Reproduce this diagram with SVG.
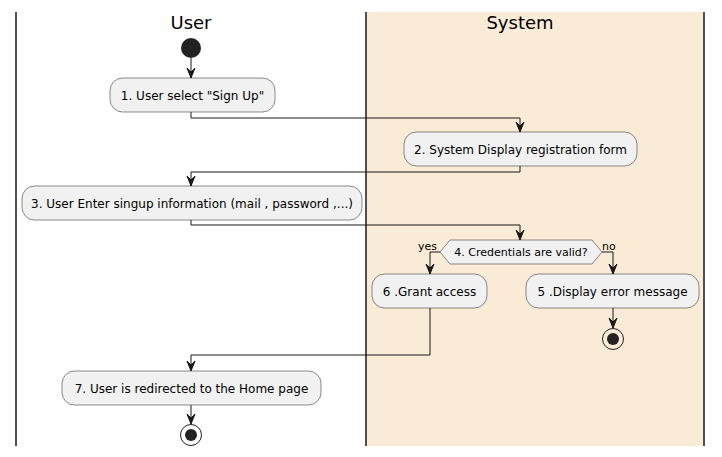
<svg xmlns="http://www.w3.org/2000/svg" width="722" height="457" viewBox="0 0 722 457">
<defs>
<style>
.lane{stroke:#181818;stroke-width:1.5;}
.title{font-family:"DejaVu Sans",sans-serif;font-size:18px;fill:#000;text-anchor:middle;}
.box{fill:#F1F1F1;stroke:#181818;stroke-width:0.5;}
.t{font-family:"DejaVu Sans",sans-serif;font-size:12px;fill:#000;text-anchor:middle;}
.lbl{font-family:"DejaVu Sans",sans-serif;font-size:11px;fill:#000;}
.edge{fill:none;stroke:#181818;stroke-width:1;}
.head{fill:#181818;stroke:#181818;stroke-width:1;}
</style>
</defs>
<rect x="366" y="12" width="338" height="434" fill="#FAEBD7"/>
<g id="lanes">
<line class="lane" x1="16" y1="12" x2="16" y2="446"/>
<line class="lane" x1="366" y1="12" x2="366" y2="446"/>
<line class="lane" x1="704" y1="12" x2="704" y2="446"/>
<text class="title" x="191" y="29">User</text>
<text class="title" x="520" y="29">System</text>
</g>
<g id="connectors">
<path class="edge" d="M191,58 V78"/>
<polygon class="head" points="187,68 191,78 195,68 191,72"/>
<path class="edge" d="M191,112 V118 H520 V132"/>
<polygon class="head" points="516,122 520,132 524,122 520,126"/>
<path class="edge" d="M520,166 V172 H191 V186"/>
<polygon class="head" points="187,176 191,186 195,176 191,180"/>
<path class="edge" d="M191,220 V225 H520 V240"/>
<polygon class="head" points="516,230 520,240 524,230 520,234"/>
<path class="edge" d="M440,252 H430 V274"/>
<polygon class="head" points="426,264 430,274 434,264 430,268"/>
<path class="edge" d="M602,252 H613 V274"/>
<polygon class="head" points="609,264 613,274 617,264 613,268"/>
<path class="edge" d="M613,308 V328"/>
<polygon class="head" points="609,318 613,328 617,318 613,322"/>
<path class="edge" d="M430,308 V355 H191 V371"/>
<polygon class="head" points="187,361 191,371 195,361 191,365"/>
<path class="edge" d="M191,405 V424"/>
<polygon class="head" points="187,414 191,424 195,414 191,418"/>
<text class="lbl" x="418" y="250">yes</text>
<text class="lbl" x="602" y="250">no</text>
</g>
<g id="start"><circle cx="191" cy="48" r="10" fill="#222222"/></g>
<g id="n1"><rect class="box" x="110" y="78" width="165" height="34" rx="12.5"/><text class="t" x="192.5" y="99.5">1. User select "Sign Up"</text></g>
<g id="n2"><rect class="box" x="404" y="132" width="233" height="34" rx="12.5"/><text class="t" x="520.5" y="153.5">2. System Display registration form</text></g>
<g id="n3"><rect class="box" x="22" y="186" width="340" height="34" rx="12.5"/><text class="t" x="192" y="207.5">3. User Enter singup information (mail , password ,...)</text></g>
<g id="n4"><polygon class="box" points="440,252 450,240 592,240 602,252 592,264 450,264"/><text class="lbl" x="521" y="256" text-anchor="middle">4. Credentials are valid?</text></g>
<g id="n6"><rect class="box" x="372" y="274" width="115" height="34" rx="12.5"/><text class="t" x="429.5" y="295.5">6 .Grant access</text></g>
<g id="n5"><rect class="box" x="526" y="274" width="173" height="34" rx="12.5"/><text class="t" x="612.5" y="295.5">5 .Display error message</text></g>
<g id="end1"><circle cx="613" cy="339" r="10.5" fill="none" stroke="#222222" stroke-width="1"/><circle cx="613" cy="339" r="6" fill="#222222"/></g>
<g id="n7"><rect class="box" x="62" y="371" width="259" height="34" rx="12.5"/><text class="t" x="191.5" y="392.5">7. User is redirected to the Home page</text></g>
<g id="end2"><circle cx="191" cy="435" r="10.5" fill="none" stroke="#222222" stroke-width="1"/><circle cx="191" cy="435" r="6" fill="#222222"/></g>
</svg>
